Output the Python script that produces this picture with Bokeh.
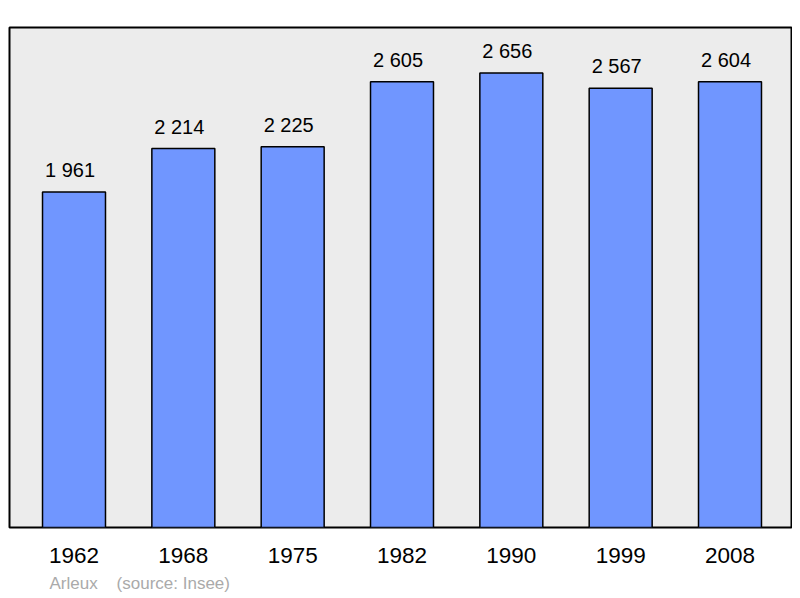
from bokeh.plotting import figure
from bokeh.models import Range1d, FixedTicker, ColumnDataSource, Title
from bokeh.core.properties import value
from bokeh.embed import file_html
from bokeh.resources import INLINE

years = ["1962", "1968", "1975", "1982", "1990", "1999", "2008"]
population = [1961, 2214, 2225, 2605, 2656, 2567, 2604]
value_labels = ["1 961", "2 214", "2 225", "2 605", "2 656", "2 567", "2 604"]
commune = "Arleux"
source_note = "(source: Insee)"

idx = list(range(len(years)))
src = ColumnDataSource(dict(x=idx, y=population, lab=value_labels))

FONT = "Liberation Sans"

p = figure(width=792, height=598, output_backend="svg", toolbar_location=None,
           x_range=Range1d(-0.59, len(years) - 1 + 0.5625),
           y_range=Range1d(0, max(population) * 1.1),
           min_border_left=9, min_border_right=1, min_border_top=27,
           min_border_bottom=70)
p.background_fill_color = "#ececec"
p.border_fill_color = "white"
p.outline_line_color = "black"
p.outline_line_width = 2
p.grid.visible = False
p.yaxis.visible = False

p.vbar(x="x", top="y", bottom=0, width=0.576, source=src,
       fill_color="#7096ff", line_color="black", line_width=1.5)
p.text(x="x", y="y", text="lab", source=src, text_align="center",
       text_baseline="alphabetic", y_offset=-22, x_offset=-4,
       text_font=value(FONT), text_font_size="20px", text_color="black")

xa = p.xaxis[0]
xa.ticker = FixedTicker(ticks=idx)
xa.major_label_overrides = {i: y for i, y in zip(idx, years)}
xa.axis_line_color = None
xa.major_tick_line_color = None
xa.minor_tick_line_color = None
xa.major_tick_out = 0
xa.major_label_standoff = 20
xa.major_label_text_font = FONT
xa.major_label_text_font_size = "22.5px"
xa.major_label_text_color = "black"

note = Title(text=commune + "\u00a0" * 4 + source_note, align="left", offset=40,
             text_font=FONT, text_font_size="17px", text_font_style="normal",
             text_color="#aaaaaa", standoff=12)
p.add_layout(note, "below")

open("out.html", "w").write(file_html(p, INLINE))
